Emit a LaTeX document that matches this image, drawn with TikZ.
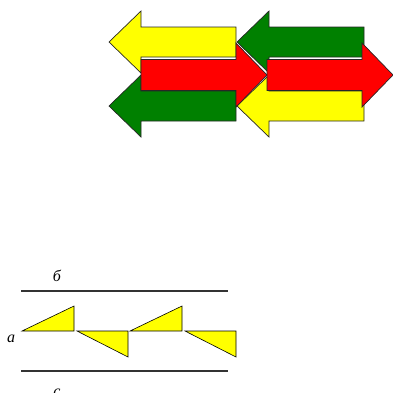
\documentclass[tikz,border=0pt]{standalone}
\usepackage{fontspec}
\setmainfont{Liberation Serif}
\usetikzlibrary{arrows.meta}

\definecolor{ylw}{RGB}{255,255,0}
\definecolor{grn}{RGB}{0,128,0}
\definecolor{rd}{RGB}{255,0,0}

\tikzset{
  blockarrow/.style={draw=black!85,line width=.7pt,line join=miter},
  saw/.style={draw=black,line width=.6pt,fill=ylw},
  rail/.style={draw=black!80,line width=1.8pt},
  lbl/.style={font=\fontsize{16}{16}\selectfont\itshape,inner sep=0pt}
}
% tip x, tip y, colour
\newcommand{\leftArr}[3]{\draw[blockarrow,fill=#3] (#1,#2) -- ++(32,-31) -- ++(0,16) -- ++(95,0) -- ++(0,30) -- ++(-95,0) -- ++(0,16) -- cycle;}
\newcommand{\rightArr}[3]{\draw[blockarrow,fill=#3] (#1,#2) -- ++(-31,-32) -- ++(0,16.5) -- ++(-95,0) -- ++(0,31) -- ++(95,0) -- ++(0,16.5) -- cycle;}

\begin{document}
\begin{tikzpicture}[x=1pt,y=-1pt]
\useasboundingbox (0,0) rectangle (393,392);

% upper block: arrows
\leftArr{109}{42}{ylw}
\leftArr{237}{42}{grn}
\leftArr{109}{106}{grn}
\leftArr{237}{106}{ylw}
\rightArr{267}{75}{rd}
\rightArr{393}{75}{rd}

% lower block: rails and teeth
\draw[rail] (21,291) -- (228,291);
\draw[rail] (21,371) -- (228,371);
\foreach \s in {0,108}{
  \draw[saw] (22+\s,331) -- (74+\s,306) -- (74+\s,331) -- cycle;
  \draw[saw] (77+\s,331) -- (128+\s,357) -- (128+\s,331) -- cycle;
}

\node[lbl] (b) at (57,276) {б};
\node[lbl] (a) at (11,339) {a};
\node[lbl] (c) at (57,393) {c};

\end{tikzpicture}
\end{document}
